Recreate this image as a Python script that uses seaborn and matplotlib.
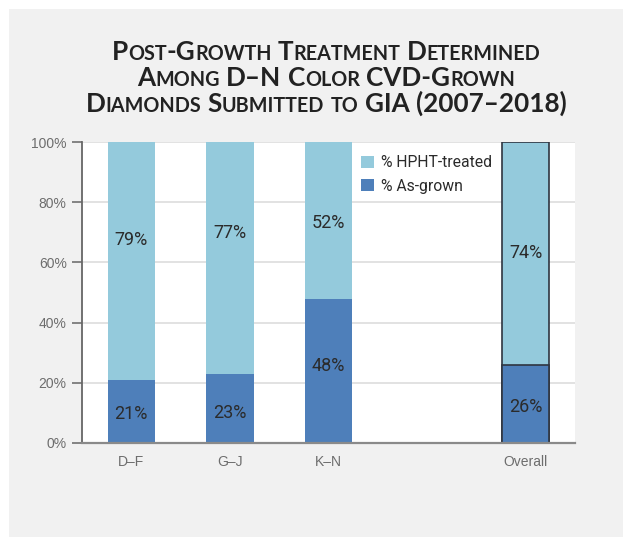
import matplotlib
matplotlib.use("Agg")
import matplotlib.pyplot as plt
from matplotlib.patches import Rectangle, Patch
import seaborn as sns
import pandas as pd

# ---- data ----
categories = ["D–F", "G–J", "K–N", "Overall"]
hpht_treated = [79, 77, 52, 74]
as_grown = [21, 23, 48, 26]
y_ticks = [0, 20, 40, 60, 80, 100]
y_tick_labels = ["0%", "20%", "40%", "60%", "80%", "100%"]
legend_labels = ["% HPHT-treated", "% As-grown"]
title_lines = ["Post-Growth Treatment Determined",
               "Among D–N Color CVD-Grown",
               "Diamonds Submitted to GIA (2007–2018)"]
# label anchor heights (layout, in % units)
label_y_hpht = [67.4, 69.9, 73.0, 63.0]
label_y_grown = [9.5, 10.1, 25.6, 12.0]

LIGHT = "#94CADC"
DARK = "#4E7FBA"

sns.set_theme(style="white")
W, H = 623, 539
fig = plt.figure(figsize=(W / 100, H / 100), dpi=100)
fig.patch.set_facecolor("white")
fig.patches.append(Rectangle((9 / W, 1 - 537 / H), 1, (537 - 9) / H,
                             transform=fig.transFigure, facecolor="#f1f1f1",
                             edgecolor="none", zorder=-10))

ax = fig.add_axes([82 / W, 1 - 443 / H, (575 - 82) / W, (443 - 142) / H])
ax.set_facecolor("white")

df = pd.DataFrame({"cat": categories,
                   "total": [a + b for a, b in zip(hpht_treated, as_grown)],
                   "grown": as_grown})
order = ["D–F", "G–J", "K–N", " ", "Overall"]
sns.barplot(data=df, x="cat", y="total", order=order, color=LIGHT,
            saturation=1, width=0.48, linewidth=0, ax=ax, zorder=3)
sns.barplot(data=df, x="cat", y="grown", order=order, color=DARK,
            saturation=1, width=0.48, linewidth=0, ax=ax, zorder=4)

# outline the Overall bar segments
for p in ax.patches:
    x = p.get_x() + p.get_width() / 2
    if abs(x - 4) < 0.01:
        p.set_edgecolor("#2f3540")
        p.set_linewidth(1.2)

xpos = {c: order.index(c) for c in categories}
for c, h, g, yh, yg in zip(categories, hpht_treated, as_grown, label_y_hpht, label_y_grown):
    ax.text(xpos[c], yh, f"{h}%", ha="center", va="center", fontsize=13,
            family="Roboto", color="#2b2b2b", zorder=6)
    ax.text(xpos[c], yg, f"{g}%", ha="center", va="center", fontsize=13,
            family="Roboto", color="#2b2b2b", zorder=6)

ax.set_xlim(-0.5, 4.5)
ax.set_ylim(0, 100)
ax.set_yticks(y_ticks)
ax.set_yticklabels(y_tick_labels)
ax.set_xticks([0, 1, 2, 4])
ax.set_xticklabels(categories)
ax.set_xlabel("")
ax.set_ylabel("")
ax.yaxis.grid(True, color="#dddddd", linewidth=1.2, zorder=0)
ax.xaxis.grid(False)
ax.set_axisbelow(True)
for s in ["top", "right"]:
    ax.spines[s].set_visible(False)
ax.spines["left"].set_color("#666666")
ax.spines["left"].set_linewidth(1.3)
ax.spines["bottom"].set_color("#8a8a8a")
ax.spines["bottom"].set_linewidth(1.6)
ax.spines["bottom"].set_zorder(5)
ax.tick_params(axis="y", length=7, width=1.1, color="#666666", pad=4,
               labelsize=10, labelcolor="#6d6d6d", left=True)
ax.tick_params(axis="x", length=0, pad=9, labelsize=10, labelcolor="#6d6d6d")
for lab in ax.get_xticklabels() + ax.get_yticklabels():
    lab.set_family("Liberation Sans")

handles = [Patch(facecolor=LIGHT, edgecolor="none"), Patch(facecolor=DARK, edgecolor="none")]
leg = ax.legend(handles, legend_labels, loc="upper left",
                bbox_to_anchor=((361 - 82) / 493, (443 - 155) / 301),
                frameon=False, borderpad=0, borderaxespad=0,
                handlelength=0.8, handleheight=0.8, handletextpad=0.5,
                labelspacing=0.55, prop={"family": "Roboto", "size": 11.3})
for t in leg.get_texts():
    t.set_color("#2b2b2b")

# ---- small-caps title ----
TFONT = "Lato"
TWEIGHT = "bold"
BIG, SMALL = 18.8, 14.2
renderer = fig.canvas.get_renderer()


def measure(s, size):
    t = fig.text(0, 0, s, fontsize=size, family=TFONT, weight=TWEIGHT)
    w = t.get_window_extent(renderer).width
    t.remove()
    return w


def runs_of(word):
    runs = []
    for ch in word:
        small = ch.islower()
        s = ch.upper() if small else ch
        size = SMALL if small else BIG
        if runs and runs[-1][1] == size:
            runs[-1][0] += s
        else:
            runs.append([s, size])
    return runs


space_w = measure("X X", BIG) - measure("XX", BIG)
baselines = [60, 86, 112]
cx = 326
for line, by in zip(title_lines, baselines):
    words = [runs_of(w) for w in line.split(" ")]
    widths = [[measure(s, sz) for s, sz in wr] for wr in words]
    total = sum(sum(w) for w in widths) + space_w * (len(words) - 1)
    x = cx - total / 2
    for wr, ws in zip(words, widths):
        for (s, sz), w in zip(wr, ws):
            fig.text(x / W, 1 - by / H, s, fontsize=sz, family=TFONT,
                     weight=TWEIGHT, color="#222222", ha="left", va="baseline")
            x += w
        x += space_w

fig.savefig("out.png", dpi=100, facecolor=fig.get_facecolor())
